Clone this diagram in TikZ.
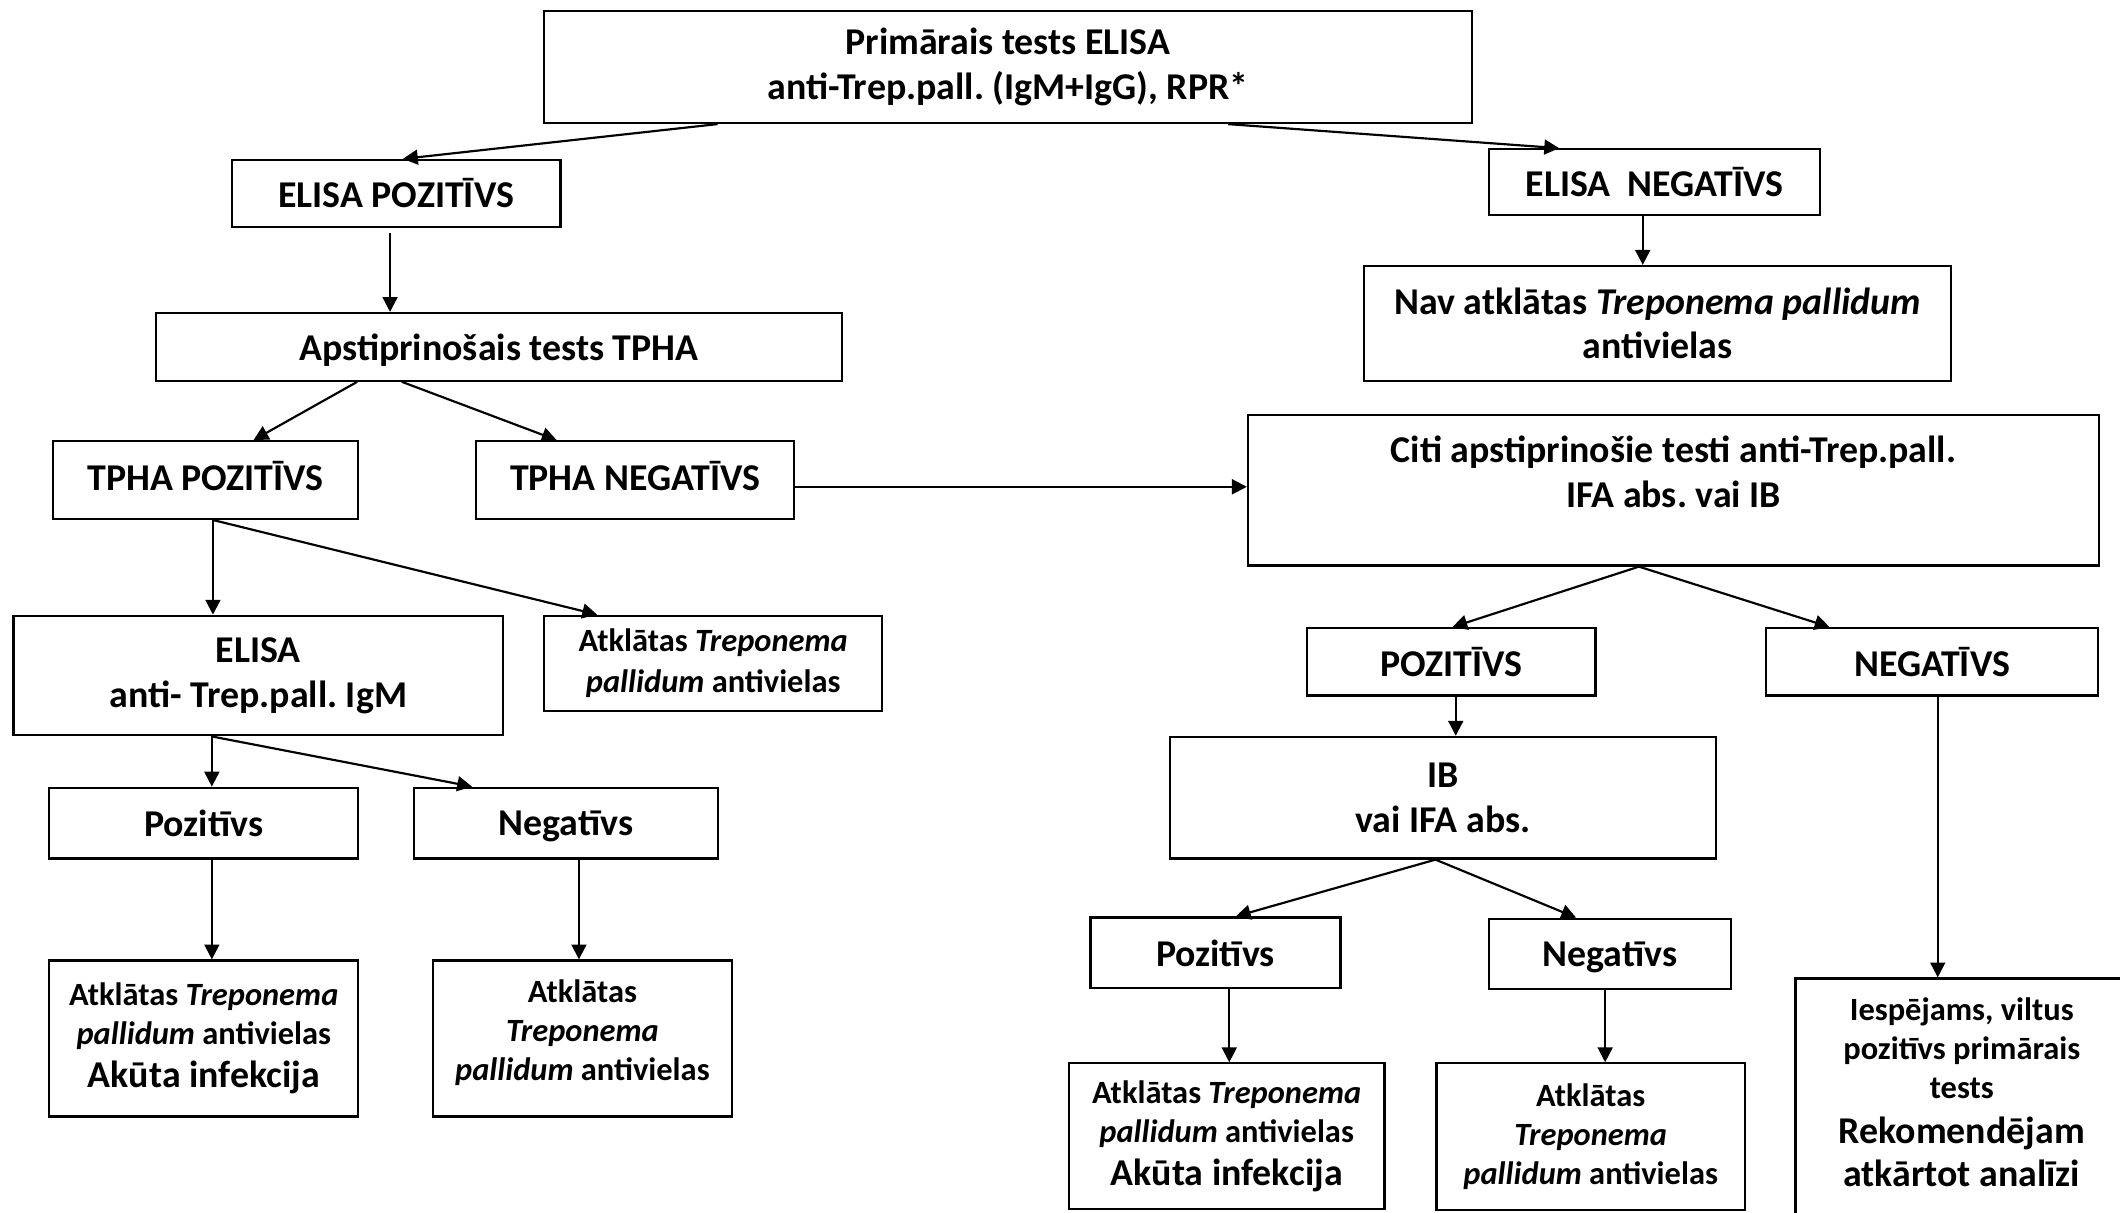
\documentclass[tikz,border=0pt]{standalone}
\usepackage{fontspec}
\setmainfont{Carlito}
\usetikzlibrary{arrows.meta,calc}
\newcommand\mybox[7]{\node[#1, minimum width={(#5-#3)*0.5pt}, minimum height={(#6-#4)*0.5pt}] (#2) at ({(#3+#5)/2},{(#4+#6)/2}) {#7};}
\begin{document}
\frenchspacing
\begin{tikzpicture}[x=0.5pt,y=-0.5pt,
  box/.style={draw, line width=0.8pt, inner sep=0pt, align=center, font=\bfseries\fontsize{14}{16.5}\selectfont},
  one/.style={box, text depth=0pt},
  sbox/.style={box, font=\bfseries\fontsize{12}{14.45}\selectfont},
  txt/.style={inner sep=0pt, align=center, font=\bfseries\fontsize{14}{16.5}\selectfont},
  stxt/.style={txt, font=\bfseries\fontsize{12}{14.45}\selectfont},
  arr/.style={line width=0.8pt, -{Triangle[length=5.5pt,width=5.5pt]}}]
\useasboundingbox (0,0) rectangle (1568,897);
\clip (0,0) rectangle (1568,897);
\fill[white] (0,0) rectangle (1568,897);
% boxes
\mybox{box}{top}{402.5}{8}{1088.5}{91}{Primārais tests ELISA\\anti-Trep.pall. (IgM+IgG), RPR*}
\mybox{one}{elpos}{171.5}{118.3}{414.5}{167.6}{ELISA POZITĪVS}
\mybox{one}{elneg}{1101.5}{110.4}{1346}{158.8}{ELISA\ \ NEGATĪVS}
\mybox{one}{apst}{115.5}{231.5}{622.5}{281.6}{Apstiprinošais tests TPHA}
\mybox{box}{nav}{1009}{196.7}{1443}{281.6}{Nav atklātas \textit{Treponema pallidum}\\antivielas}
\mybox{one,text depth=3pt}{tpos}{39}{326.3}{265}{383.8}{TPHA POZITĪVS}
\mybox{one,text depth=3pt}{tneg}{352}{326.3}{587.5}{383.8}{TPHA NEGATĪVS}
\mybox{box}{citi}{923}{307}{1552.5}{418.3}{}
\node[txt, anchor=north] (citit) at ($(citi.north)+(0,16)$) {Citi apstiprinošie testi anti-Trep.pall.\\IFA abs. vai IB};
\mybox{box}{igm}{10}{455.4}{372}{543.9}{ELISA\\anti- Trep.pall. IgM}
\mybox{sbox,font=\bfseries\fontsize{12}{15}\selectfont}{atk1}{402.5}{455.4}{652.5}{526}{Atklātas \textit{Treponema}\\\textit{pallidum} antivielas}
\mybox{one}{poz1}{36.5}{582.6}{265}{635}{Pozitīvs}
\mybox{one}{neg1}{306}{582.6}{531}{635}{Negatīvs}
\mybox{sbox}{res1}{36.5}{710.4}{265}{825.8}{Atklātas \textit{Treponema}\\\textit{pallidum} antivielas\\[1.5pt]\fontsize{14}{16.5}\selectfont Akūta infekcija}
\mybox{sbox,text depth=6pt}{res2}{320}{710.4}{541.5}{825.8}{Atklātas\\\textit{Treponema}\\\textit{pallidum} antivielas}
\mybox{one}{poz2}{966.5}{464.6}{1180}{514.4}{POZITĪVS}
\mybox{one}{neg2}{1306}{464.6}{1552}{514.4}{NEGATĪVS}
\mybox{box}{ib}{865.5}{545}{1269}{635}{IB\\vai IFA abs.}
\mybox{one}{poz3}{806.5}{678.6}{991.5}{730.7}{Pozitīvs}
\mybox{one}{neg3}{1101.5}{679.5}{1280}{731.5}{Negatīvs}
\mybox{sbox}{res3}{790.5}{786.5}{1024}{894.4}{Atklātas \textit{Treponema}\\\textit{pallidum} antivielas\\[1.5pt]\fontsize{14}{16.5}\selectfont Akūta infekcija}
\mybox{sbox}{res4}{1062.5}{786.5}{1290.5}{895}{Atklātas\\\textit{Treponema}\\\textit{pallidum} antivielas}
\mybox{box}{iesp}{1328}{723.7}{1574}{905}{}
\node[stxt] (iespt) at (1451,808) {Iespējams, viltus\\pozitīvs primārais\\tests\\[2.1pt]\fontsize{14}{16.5}\selectfont Rekomendējam\\[1.45pt]\fontsize{14}{16.5}\selectfont atkārtot analīzi};
% connectors
\draw[arr] ($(top.south west)+(129,0)$) -- ($(elpos.north)+(5,0)$);
\draw[arr] ($(top.south west)+(506.5,0)$) -- ($(elneg.north west)+(52.5,0)$);
\coordinate (c1) at ($(elpos.south)+(-4.5,4)$);
\draw[arr] (c1) -- (c1 |- apst.north);
\coordinate (c2) at ($(elneg.south)+(-8.75,0)$);
\draw[arr] (c2) -- (c2 |- nav.north);
\draw[arr] ($(apst.south west)+(149.5,0)$) -- ($(tpos.north)+(35.5,0)$);
\draw[arr] ($(apst.south west)+(182.5,0)$) -- ($(tneg.north west)+(60.5,0)$);
\coordinate (c3) at ($(tneg.east)+(0,5)$);
\draw[arr] (c3) -- (c3 -| citi.west);
\coordinate (c4) at ($(tpos.south)+(5.5,0)$);
\draw[arr] (c4) -- (c4 |- igm.north);
\draw[arr] (c4) -- ($(atk1.north west)+(40,0)$);
\coordinate (c5) at ($(igm.south west)+(147.5,0)$);
\draw[arr] (c5) -- (c5 |- poz1.north);
\draw[arr] (c5) -- ($(neg1.north west)+(44,0)$);
\coordinate (c6) at ($(poz1.south west)+(121,0)$);
\draw[arr] (c6) -- (c6 |- res1.north);
\coordinate (c7) at ($(neg1.south west)+(123,0)$);
\draw[arr] (c7) -- (c7 |- res2.north);
\coordinate (c8) at ($(citi.south west)+(290,0)$);
\draw[arr] (c8) -- ($(poz2.north)+(1,0)$);
\draw[arr] (c8) -- ($(neg2.north west)+(48,0)$);
\coordinate (c9) at ($(poz2.south west)+(111,0)$);
\draw[arr] (c9) -- (c9 |- ib.north);
\coordinate (c10) at ($(ib.south west)+(197,0)$);
\draw[arr] (c10) -- ($(poz3.north)+(15,0)$);
\draw[arr] (c10) -- ($(neg3.north west)+(65,0)$);
\coordinate (c11) at ($(poz3.south west)+(103.5,0)$);
\draw[arr] (c11) -- (c11 |- res3.north);
\coordinate (c12) at ($(neg3.south west)+(86.5,0)$);
\draw[arr] (c12) -- (c12 |- res4.north);
\coordinate (c13) at ($(neg2.south west)+(128,0)$);
\draw[arr] (c13) -- (c13 |- iesp.north);
\end{tikzpicture}
\end{document}
